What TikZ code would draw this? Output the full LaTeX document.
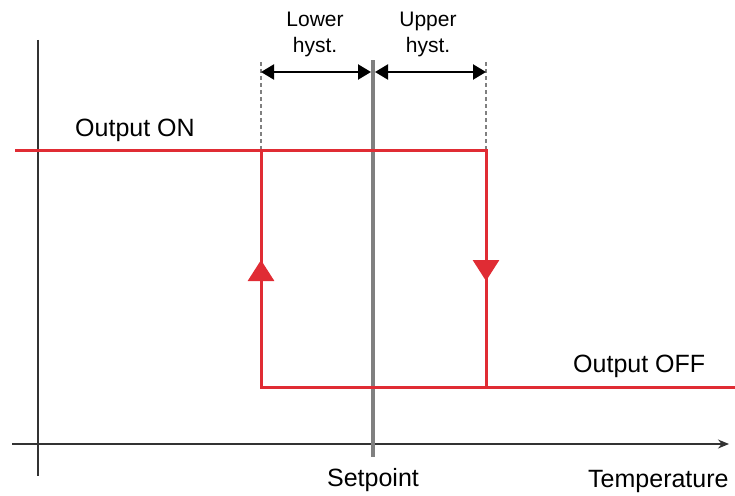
\documentclass[tikz,border=0pt]{standalone}
\usepackage{fontspec}
\setmainfont{Liberation Sans}
\usepackage{tikz}
\usetikzlibrary{arrows.meta}
\usetikzlibrary{positioning}
\definecolor{hystred}{RGB}{224,44,52}
\definecolor{spgray}{RGB}{128,128,128}
\tikzstyle{curve}=[%
  draw=hystred,
  line width=3pt
]
\tikzstyle{axis}=[%
  draw=black!80,
  line width=1.3pt
]
\tikzstyle{band}=[%
  line width=2.2pt,
  {Triangle[length=13pt, width=15pt]}-{Triangle[length=13pt, width=15pt]}
]
\tikzstyle{biglabel}=[%
  font=\fontsize{25}{30}\selectfont,
  inner sep=0pt
]
\tikzstyle{smalllabel}=[%
  font=\fontsize{21}{26}\selectfont,
  align=center,
  inner sep=0pt
]

\begin{document}
\begin{tikzpicture}[x=1pt, y=-1pt]
      \useasboundingbox (0, 0) rectangle (735, 495);
      % corners of the loop
      \coordinate (l0) at (15, 150);
      \coordinate (lt) at (261, 150);
      \coordinate (lb) at (261, 387);
      \coordinate (rt) at (486, 150);
      \coordinate (rb) at (486, 387);
      \coordinate (r1) at (735, 387);
      \coordinate (la) at (261, 260);
      \coordinate (ra) at (486, 281);
      % axes
      \coordinate (ytop) at (38, 40);
      \coordinate (ybot) at (38, 476);
      \coordinate (xl) at (12, 444);
      \coordinate (xr) at (729, 444);
      \draw[axis] (ytop) -- (ybot);
      \draw[axis, -{Stealth[length=11pt, width=9pt]}] (xl) -- (xr);
      % setpoint
      \coordinate (s0) at (373, 60);
      \coordinate (s1) at (373, 457);
      \draw[spgray, line width=4pt] (s0) -- (s1);
      % dashed guides
      \coordinate (ld) at (261, 62);
      \coordinate (rd) at (486, 62);
      \draw[spgray, line width=1.2pt, dash pattern=on 4pt off 3pt] (ld) -- (lt);
      \draw[spgray, line width=1.2pt, dash pattern=on 4pt off 3pt] (rd) -- (rt);
      % hysteresis bands
      \coordinate (la1) at (261, 72);
      \coordinate (sa1) at (371, 72);
      \coordinate (sa2) at (375, 72);
      \coordinate (ra1) at (486, 72);
      \draw[band] (la1) -- (sa1);
      \draw[band] (sa2) -- (ra1);
      % loop
      \draw[curve] (l0) -- (rt) -- (rb) -- (r1);
      \draw[curve] (lt) -- (lb) -- (rb);
      \draw[curve, -{Triangle[length=21pt, width=26pt]}] (lb) -- (la);
      \draw[curve, -{Triangle[length=21pt, width=26pt]}] (rt) -- (ra);
      % labels
      \node[smalllabel] (lo) at (315, 34) {Lower\\hyst.};
      \node[smalllabel] (up) at (428, 34) {Upper\\hyst.};
      \node[biglabel, anchor=west] (on) at (75, 130) {Output ON};
      \node[biglabel, anchor=west] (off) at (573, 366) {Output OFF};
      \node[biglabel] (sp) at (373, 480) {Setpoint};
      \node[biglabel, anchor=west] (temp) at (588, 481) {Temperature};
    \end{tikzpicture}
\end{document}
